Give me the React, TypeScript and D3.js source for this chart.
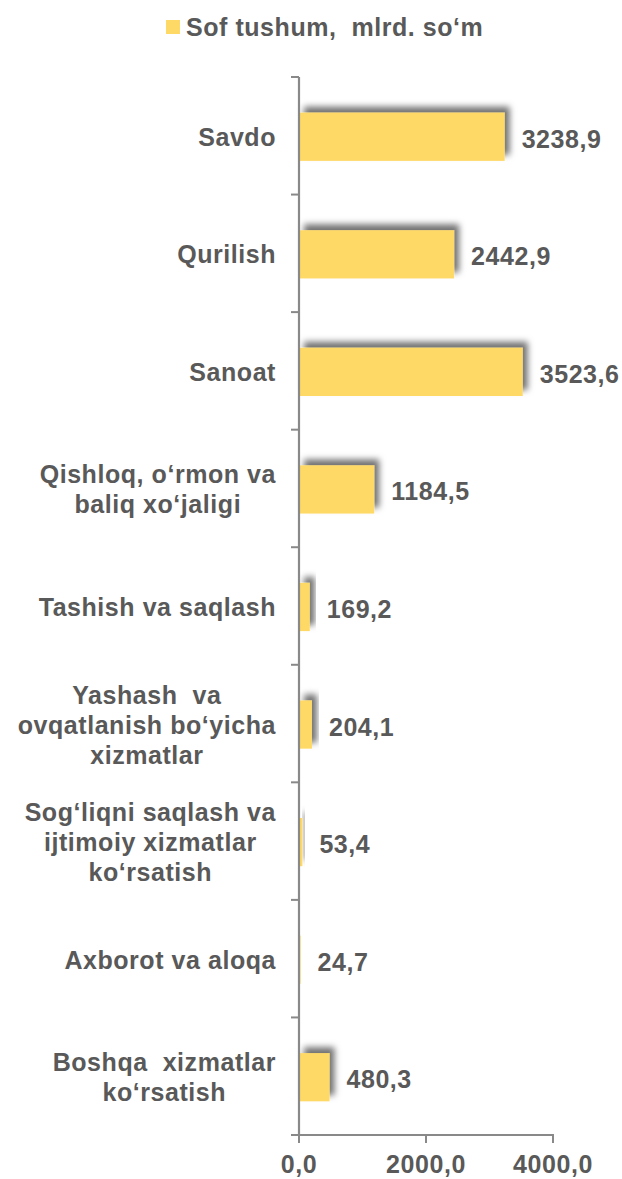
import React from "react";
import * as d3 from "d3";

const categories: string[][] = [
  ["Savdo"],
  ["Qurilish"],
  ["Sanoat"],
  ["Qishloq, o‘rmon va", "baliq xo‘jaligi"],
  ["Tashish va saqlash"],
  ["Yashash  va", "ovqatlanish bo‘yicha", "xizmatlar"],
  ["Sog‘liqni saqlash va", "ijtimoiy xizmatlar", "ko‘rsatish"],
  ["Axborot va aloqa"],
  ["Boshqa  xizmatlar", "ko‘rsatish"],
];
const values: number[] = [3238.9, 2442.9, 3523.6, 1184.5, 169.2, 204.1, 53.4, 24.7, 480.3];
const xTicks: number[] = [0, 2000, 4000];
const legendLabel = "Sof tushum,  mlrd. so‘m";

const W = 622;
const H = 1179;
const FONT = "bold 25px 'Liberation Sans', Arial, sans-serif";
const LS = 0.55;
const TEXT = "#595959";
const AXIS = "#898989";
const BAR = "#FFD966";

const fmt = (v: number) => d3.format(".1f")(v).replace(".", ",");

let ctx: CanvasRenderingContext2D | null = null;
function measure(s: string): number {
  if (!ctx) {
    const c = document.createElement("canvas");
    ctx = c.getContext("2d");
  }
  if (!ctx) return s.length * 13;
  ctx.font = FONT;
  return ctx.measureText(s).width + s.length * LS;
}

export default function App() {
  const x = d3.scaleLinear().domain([0, 4000]).range([299, 553]);
  const idx = categories.map((_, i) => i);
  const y = d3.scaleBand<number>().domain(idx).range([77, 1135]).paddingInner(0.59).paddingOuter(0.295);
  const band = d3.scaleBand<number>().domain(idx).range([77, 1135]);
  const labelRight = 276;
  const lineH = 30;
  const ts = { font: FONT, letterSpacing: `${LS}px`, whiteSpace: "pre" as const };

  return (
    <div style={{ position: "absolute", left: 0, top: 0 }}>
      <svg width={W} height={H} style={{ display: "block" }}>
        <defs>
          <filter id="shadow" x="-50%" y="-50%" width="200%" height="200%">
            <feGaussianBlur in="SourceAlpha" stdDeviation="3.2" />
            <feOffset dx="5" dy="-6" result="ob" />
            <feFlood floodColor="#000" floodOpacity="0.55" />
            <feComposite in2="ob" operator="in" />
            <feMerge>
              <feMergeNode />
              <feMergeNode in="SourceGraphic" />
            </feMerge>
          </filter>
        </defs>
        <rect width={W} height={H} fill="#fff" />

        {/* legend */}
        <rect x={166} y={20} width={14} height={14} fill={BAR} />
        <text x={186} y={36} style={ts} fill={TEXT}>
          {legendLabel}
        </text>

        {/* bars */}
        {values.map((v, i) => (
          <rect
            key={"b" + i}
            x={x(0)}
            y={(y(i) as number) + 1}
            width={x(v) - x(0)}
            height={y.bandwidth()}
            fill={BAR}
            filter="url(#shadow)"
          />
        ))}

        {/* value labels */}
        {values.map((v, i) => (
          <text
            key={"v" + i}
            x={x(v) + 17}
            y={(band(i) as number) + band.bandwidth() / 2 + 12}
            style={ts}
            fill={TEXT}
          >
            {fmt(v)}
          </text>
        ))}

        {/* category labels */}
        {categories.map((lines, i) => {
          const widths = lines.map((l) => measure(l));
          const maxW = Math.max(...widths);
          const cx = labelRight - maxW / 2;
          const c = (band(i) as number) + band.bandwidth() / 2;
          return (
            <text key={"c" + i} style={ts} fill={TEXT} textAnchor="middle">
              {lines.map((l, j) => (
                <tspan key={j} x={cx} y={c + (j - (lines.length - 1) / 2) * lineH + 10}>
                  {l}
                </tspan>
              ))}
            </text>
          );
        })}

        {/* y axis */}
        <line x1={299} x2={299} y1={77} y2={1135} stroke={AXIS} strokeWidth={2.2} />
        {d3.range(categories.length + 1).map((k) => {
          const yy = 77 + k * band.step();
          return <line key={"t" + k} x1={291} x2={299} y1={yy} y2={yy} stroke={AXIS} strokeWidth={2} />;
        })}

        {/* x axis */}
        <line x1={291} x2={x(4000) + 1} y1={1135} y2={1135} stroke={AXIS} strokeWidth={2} />
        {xTicks.map((t) => (
          <g key={"x" + t}>
            <line x1={x(t)} x2={x(t)} y1={1135} y2={1143} stroke={AXIS} strokeWidth={2} />
            <text x={x(t)} y={1173} textAnchor="middle" style={ts} fill={TEXT}>
              {fmt(t)}
            </text>
          </g>
        ))}
      </svg>
    </div>
  );
}
